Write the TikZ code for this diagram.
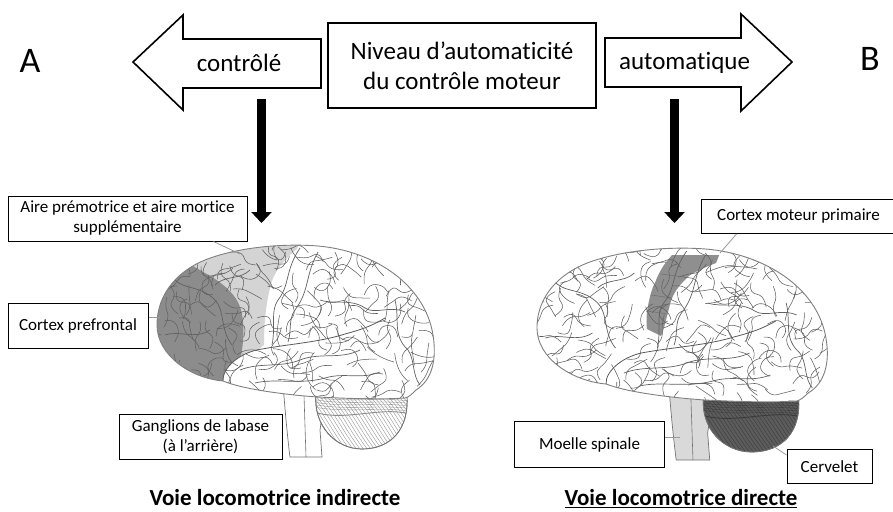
\documentclass[tikz,border=0pt]{standalone}
\usepackage{fontspec}
\setmainfont{Carlito}[Ligatures=NoCommon]
\usetikzlibrary{arrows.meta}
\definecolor{pfgray}{HTML}{8C8C8C}
\definecolor{pmgray}{HTML}{D4D4D4}
\definecolor{mcgray}{HTML}{8F8F8F}
\definecolor{cbdark}{HTML}{5C5C5C}
\definecolor{cbline}{HTML}{3A3A3A}
\definecolor{bsgray}{HTML}{D9D9D9}
\newcommand{\brainoutline}{(223,381) .. controls (190,378) and (157,355) .. (157,325) .. controls (157,292) and (180,270) .. (205,260) .. controls (235,248) and (280,243) .. (318,246) .. controls (375,251) and (425,285) .. (433,335) .. controls (437,360) and (432,380) .. (416,390) .. controls (412,394) and (409,397) .. (405,398) .. controls (375,400) and (340,398) .. (317,397) .. controls (290,395) and (245,390) .. (223,381) -- cycle}
\newcommand{\cerebpath}{(316,394) .. controls (313,425) and (335,449) .. (362,449) .. controls (392,449) and (409,428) .. (407,396) .. controls (380,400) and (340,398) .. (316,394) -- cycle}
\newcommand{\temporalfill}{(223,381) .. controls (222,368) and (240,352) .. (262,349) .. controls (290,344) and (320,342) .. (345,334) .. controls (360,330) and (372,326) .. (385,318) -- (420,330) -- (420,400) -- (223,400) -- cycle}
\newcommand{\drawbrain}[5]{%
  % brainstem
  \filldraw[fill=#4, draw=black!55, line width=0.7pt] (283,385) -- (286,420) .. controls (288,440) and (289,450) .. (290,457) -- (322,457) -- (320,430) -- (325,395) -- cycle;
  \draw[black!55, line width=0.6pt] (304,395) -- (306,457);
  % cerebellum
  \filldraw[fill=#2, draw=black!55, line width=0.7pt] \cerebpath;
  \begin{scope}
    \clip \cerebpath;
    \foreach \i in {0,...,34} {
      \draw[#3, line width=0.35pt] ({292+\i*3.6},398) .. controls ({306+\i*3.6},412) and ({314+\i*3.6},432) .. ({330+\i*3.6},452);
    }
    \foreach \i in {0,...,4} {
      \draw[#3, line width=0.35pt] (314,{397+\i*2.5}) .. controls (345,{403+\i*2.5}) and (380,{397+\i*2.5}) .. (410,{401+\i*2.5});
    }
    \draw[#3, line width=0.9pt] (314,412) .. controls (345,422) and (380,406) .. (410,414);
  \end{scope}
  \draw[black!55, line width=0.7pt] \cerebpath;
  % cerebrum
  \fill[white] \brainoutline;
  \begin{scope}
    \clip \brainoutline;
    #1
    \fill[white] \temporalfill;
    \pgfmathsetseed{#5}
    \foreach \gx in {160,177,...,436} {
      \foreach \gy in {248,261,...,400} {
        \pgfmathsetmacro{\ax}{\gx+6*rand}
        \pgfmathsetmacro{\ay}{\gy+5*rand}
        \pgfmathsetmacro{\ta}{360*rnd}
        \pgfmathsetmacro{\tb}{\ta+75*rand}
        \pgfmathsetmacro{\tc}{\tb+75*rand}
        \pgfmathsetmacro{\bx}{\ax+11*cos(\ta)}
        \pgfmathsetmacro{\by}{\ay+11*sin(\ta)}
        \pgfmathsetmacro{\cx}{\bx+11*cos(\tb)}
        \pgfmathsetmacro{\cy}{\by+11*sin(\tb)}
        \pgfmathsetmacro{\dx}{\cx+9*cos(\tc)}
        \pgfmathsetmacro{\dy}{\cy+9*sin(\tc)}
        \draw[gyrus] plot[smooth, tension=0.8] coordinates {(\ax,\ay) (\bx,\by) (\cx,\cy) (\dx,\dy)};
      }
    }
  \end{scope}
  % main sulci
  \begin{scope}[gyrus, line width=0.7pt]
    \draw (175,280) .. controls (185,290) and (200,285) .. (215,300) .. controls (225,310) and (220,330) .. (232,345);
    \draw (165,335) .. controls (180,330) and (195,340) .. (210,330);
    \draw (215,285) .. controls (225,275) and (240,280) .. (250,270);
    \draw (300,248) .. controls (285,270) and (290,285) .. (278,300) .. controls (270,312) and (276,325) .. (272,345);
    \draw (318,252) .. controls (305,275) and (310,290) .. (295,310) .. controls (288,320) and (292,330) .. (288,342);
    \draw (320,300) .. controls (335,305) and (350,298) .. (365,308) .. controls (375,315) and (390,305) .. (405,312);
    \draw (395,300) .. controls (400,320) and (392,335) .. (408,350) .. controls (415,360) and (412,375) .. (420,385);
    \draw (240,370) .. controls (260,362) and (280,368) .. (300,360) .. controls (320,352) and (340,360) .. (360,350);
    \draw (255,383) .. controls (275,378) and (300,385) .. (325,378) .. controls (345,372) and (360,380) .. (380,372);
  \end{scope}
  \draw[black!65, line width=0.8pt] (223,381) .. controls (222,368) and (240,352) .. (262,349) .. controls (290,344) and (320,342) .. (345,334) .. controls (360,330) and (372,326) .. (385,318);
  \draw[black!50, line width=0.9pt] \brainoutline;
}
\tikzset{
  lbl/.style={draw=black, line width=1pt, fill=white, font=\fontsize{17}{20}\selectfont, align=center, inner sep=0pt},
  conn/.style={draw=black!40, line width=0.8pt},
  bigarrow/.style={draw=black, line width=1.6pt, fill=white, line join=miter},
  gyrus/.style={draw=black!62, line width=0.55pt},
  downarrow/.style={line width=9pt, -{Triangle[length=11pt,width=20pt]}},
}
\begin{document}
\begin{tikzpicture}[x=1pt, y=-1pt]
\useasboundingbox (0,0) rectangle (893,511);
\fill[white] (0,0) rectangle (893,511);

% brains
\drawbrain{%
  \fill[pmgray] (190,240) -- (300,240) -- (297,249) .. controls (283,260) and (272,275) .. (270,288) .. controls (266,305) and (264,322) .. (264,345) -- (245,360) -- (190,360) -- cycle;
  \fill[pfgray] (140,240) -- (190,240) -- (193,266) -- (205,273) .. controls (218,280) and (235,292) .. (240,307) .. controls (245,320) and (244,345) .. (240,360) .. controls (236,370) and (230,376) .. (223,381) -- (140,400) -- cycle;
}{white}{black!45}{white}{11}

\begin{scope}[shift={(372.6,3)}, xscale=1.047]
\drawbrain{%
  \fill[mcgray] (286,252) -- (331,252) -- (328,260) .. controls (316,265) and (305,270) .. (301,274) .. controls (292,283) and (287,291) .. (285,298) .. controls (281,312) and (279,325) .. (275.5,333) -- (262,326) .. controls (261,316) and (262,308) .. (263,303) .. controls (265,292) and (267,285) .. (270,279) .. controls (274,268) and (279,260) .. (286,252) -- cycle;
  \draw[black!55, line width=0.6pt] (275,271) -- (298,274) (266,292) -- (286,295) (262,308) -- (282,311);
}{cbdark}{cbline}{bsgray}{23}
\end{scope}

% top arrows and box
\draw[bigarrow] (133,62) -- (183,15) -- (183,39) -- (321,39) -- (321,88) -- (183,88) -- (183,110) -- cycle;
\draw[bigarrow] (605,38) -- (741,38) -- (741,14) -- (792,62) -- (741,111) -- (741,87) -- (605,87) -- cycle;
\node[font=\fontsize{25}{30}\selectfont] (ctrl) at (239,63) {contrôlé};
\node[font=\fontsize{25}{30}\selectfont] (auto) at (684.5,63) {automatique};
\node[draw, line width=1.8pt, minimum width=268pt, minimum height=85pt, align=center, inner sep=0pt, font=\fontsize{25}{30}\selectfont] (niveau) at (462,65.5) {Niveau d’automaticité\\du contrôle moteur};
\node[font=\fontsize{36}{40}\selectfont] (A) at (30,61) {A};
\node[font=\fontsize{36}{40}\selectfont] (B) at (870,59) {B};

% down arrows
\coordinate (la1) at (261.5,99);
\coordinate (la2) at (261.5,223);
\coordinate (ra1) at (674.5,99);
\coordinate (ra2) at (674.5,223);
\draw[downarrow] (la1) -- (la2);
\draw[downarrow] (ra1) -- (ra2);

% labels
\node[lbl, minimum width=239pt, minimum height=45pt] (aire) at (127.5,218.5) {Aire prémotrice et aire mortice\\supplémentaire};
\node[lbl, minimum width=140pt, minimum height=45pt] (cpf) at (78,325.5) {Cortex prefrontal};
\node[lbl, minimum width=163pt, minimum height=45pt] (gang) at (200.5,436.5) {Ganglions de labase\\(à l’arrière)};
\node[lbl, minimum width=195pt, minimum height=34pt] (cmp) at (798.5,216.5) {Cortex moteur primaire};
\node[lbl, minimum width=150pt, minimum height=46pt] (moelle) at (589.5,444.5) {Moelle spinale};
\node[lbl, minimum width=85pt, minimum height=34pt] (cerv) at (829.5,466.5) {Cervelet};

% connectors
\coordinate (aireP) at (240,254);
\coordinate (cpfP) at (160,317);
\coordinate (cmpP) at (720,253);
\coordinate (moelleP) at (680,437);
\coordinate (cervP) at (773,446);
\draw[conn] ([xshift=-34pt]aire.south east) -- (aireP);
\draw[conn] (cpf.east |- cpfP) -- (cpfP);
\draw[conn] ([xshift=36pt]cmp.south west) -- (cmpP);
\draw[conn] (moelle.east |- moelleP) -- (moelleP);
\draw[conn] ([yshift=-6pt]cerv.north west) -- (cervP);

% captions
\node[font=\fontsize{23}{26}\selectfont\bfseries, inner sep=0pt] (capL) at (275,498) {Voie locomotrice indirecte};
\node[font=\fontsize{23}{26}\selectfont\bfseries, inner sep=0pt] (capR) at (681,499) {\underline{Voie locomotrice directe}};
\end{tikzpicture}
\end{document}
